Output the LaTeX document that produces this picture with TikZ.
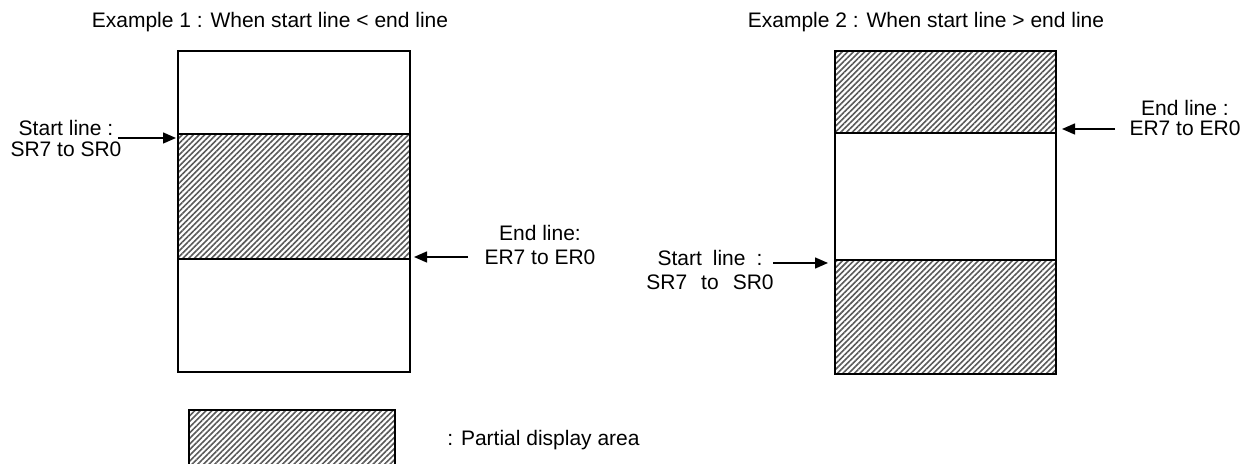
\documentclass[tikz,border=0pt]{standalone}
\usepackage{fontspec}
\setmainfont{Liberation Sans}
\usetikzlibrary{positioning,arrows.meta,patterns.meta}

\tikzset{
  frame/.style={draw=black,line width=1pt},
  hatch/.style={pattern={Lines[angle=45,distance=2pt,line width=0.8pt]},pattern color=black!65},
  lbl/.style={align=center,inner sep=0pt,font=\fontsize{10.5}{12}\selectfont},
  ptr/.style={-{Triangle[length=6.5pt,width=5.5pt]},line width=0.7pt},
}

\begin{document}
\begin{tikzpicture}[x=0.5pt,y=-0.5pt]
\useasboundingbox (0,0) rectangle (1243,464);
\clip (0,0) rectangle (1243,464);
% example 1
\node[lbl] (title1) at (270,22) {Example 1 : When start line < end line};
\draw[frame,hatch] (178,134) rectangle (410,259);
\node[frame,inner sep=0pt,outer sep=0pt,minimum width=116pt,minimum height=160.5pt,anchor=north west] (box1) at (178,51) {};
\node[lbl] (start1) at (66,138) {Start line :\\[-1.5pt]SR7 to SR0};
\node[lbl] (end1) at (540,245) {End line:\\ER7 to ER0};
\coordinate (start1tail) at (118,138);
\coordinate (end1tail) at (468,257);
\draw[ptr] (start1tail) -- ([xshift=-1pt]start1tail -| box1.west);
\draw[ptr] (end1tail) -- ([xshift=2pt]end1tail -| box1.east);
% example 2
\node[lbl] (title2) at (926,22) {Example 2 : When start line > end line};
\fill[hatch] (835,51) rectangle (1056,133);
\fill[hatch] (835,260) rectangle (1056,374);
\draw[frame] (835,133) -- (1056,133) (835,260) -- (1056,260);
\node[frame,inner sep=0pt,outer sep=0pt,minimum width=110.5pt,minimum height=161.5pt,anchor=north west] (box2) at (835,51) {};
\node[lbl] (end2) at (1185,118) {End line :\\[-2pt]ER7 to ER0};
\node[lbl] (start2) at (710,270) {Start\hspace{5.5pt}line\hspace{5.5pt}:\\SR7\hspace{7pt}to\hspace{7pt}SR0};
\coordinate (end2tail) at (1115,129);
\coordinate (start2tail) at (773,263);
\draw[ptr] (end2tail) -- ([xshift=3pt]end2tail -| box2.east);
\draw[ptr] (start2tail) -- ([xshift=-3.5pt]start2tail -| box2.west);
% legend
\draw[frame,hatch] (189,410) rectangle (395,490);
\node[lbl,anchor=west] (legend) at (447,440) {: Partial display area};
\end{tikzpicture}
\end{document}
